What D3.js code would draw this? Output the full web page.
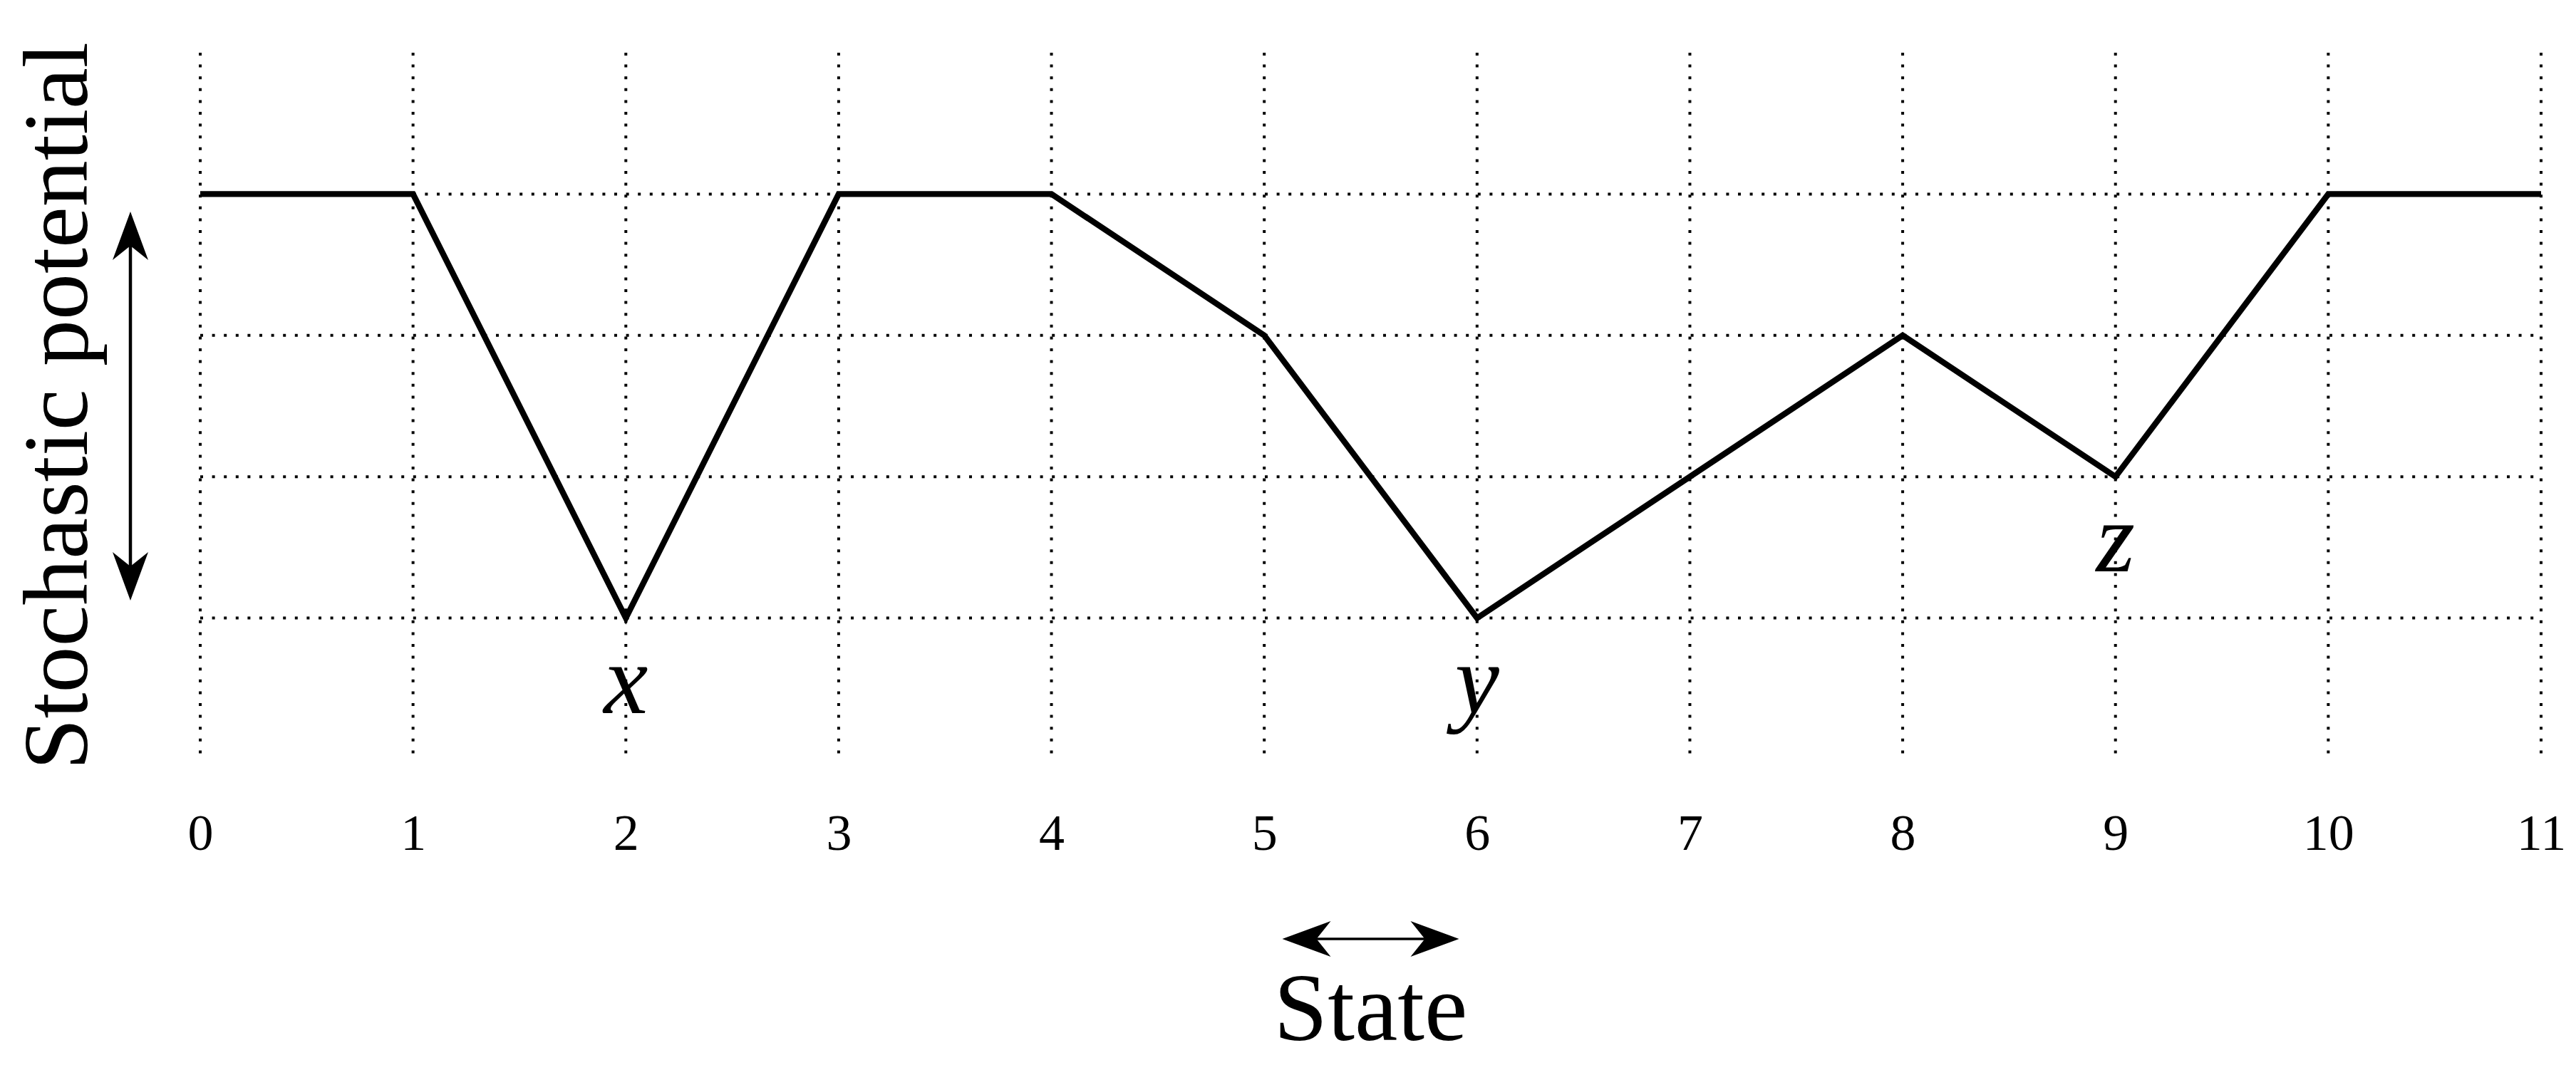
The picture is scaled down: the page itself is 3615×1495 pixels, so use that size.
<!DOCTYPE html>
<html>
<head>
<meta charset="utf-8">
<script src="https://cdn.jsdelivr.net/npm/d3@7"></script>
<style>
  body { margin: 0; background: #fff; }
</style>
</head>
<body>
<div id="chart"></div>
<script>
// states on the x axis and the potential at each state
var states = [0, 1, 2, 3, 4, 5, 6, 7, 8, 9, 10, 11];
var potential = [3, 3, 0, 3, 3, 2, 0, 1, 2, 1, 3, 3];
var levels = [0, 1, 2, 3];
var tickLabels = ['0','1','2','3','4','5','6','7','8','9','10','11'];
var minima = [{name: 'x', state: 2}, {name: 'y', state: 6}, {name: 'z', state: 9}];

var serif = '"Liberation Serif", "DejaVu Serif", serif';
var width = 3615, height = 1495;
var svg = d3.select('#chart').append('svg')
    .attr('width', width)
    .attr('height', height);

var x = d3.scaleLinear().domain([0, 11]).range([281, 3566]);
var y = d3.scaleLinear().domain([-1, 4]).range([1066, 74]);

// dotted grid
var dots = '4,12.6';
svg.append('g').selectAll('line')
    .data(states)
    .enter().append('line')
    .attr('x1', d => x(d)).attr('x2', d => x(d))
    .attr('y1', y(4)).attr('y2', y(-1))
    .attr('stroke', '#000')
    .attr('stroke-width', 4)
    .attr('stroke-dasharray', dots);
svg.append('g').selectAll('line')
    .data(levels)
    .enter().append('line')
    .attr('x1', x(0)).attr('x2', x(11))
    .attr('y1', d => y(d)).attr('y2', d => y(d))
    .attr('stroke', '#000')
    .attr('stroke-width', 4)
    .attr('stroke-dasharray', dots);

// tick labels (axis without domain/ticks)
var xAxis = d3.axisBottom(x)
    .tickValues(states)
    .tickFormat((d, i) => tickLabels[i])
    .tickSize(0)
    .tickPadding(0);
var ax = svg.append('g')
    .attr('transform', 'translate(0,1193)')
    .call(xAxis);
ax.select('.domain').remove();
ax.attr('font-family', null);
ax.selectAll('text')
    .attr('dy', 0)
    .attr('y', 0)
    .attr('fill', '#000')
    .style('font-family', serif)
    .style('font-size', '72px');

// the potential curve
var line = d3.line()
    .x((d, i) => x(states[i]))
    .y(d => y(d));
svg.append('path')
    .datum(potential)
    .attr('d', line)
    .attr('fill', 'none')
    .attr('stroke', '#000')
    .attr('stroke-width', 8.3)
    .attr('stroke-linejoin', 'miter');

// minima labels
svg.append('g').selectAll('text')
    .data(minima)
    .enter().append('text')
    .attr('x', d => x(d.state))
    .attr('y', d => y(potential[d.state]) + 133)
    .attr('text-anchor', 'middle')
    .style('font-family', serif)
    .style('font-style', 'italic')
    .style('font-size', '140px')
    .text(d => d.name);

// double headed arrows (stealth style heads)
function head(tx, ty, ux, uy, len, half, notch) {
    // tip at (tx,ty); u points from the tip back into the shaft
    var px = -uy, py = ux;
    return 'M' + tx + ',' + ty +
        'L' + (tx + ux * len + px * half) + ',' + (ty + uy * len + py * half) +
        'L' + (tx + ux * notch) + ',' + (ty + uy * notch) +
        'L' + (tx + ux * len - px * half) + ',' + (ty + uy * len - py * half) + 'Z';
}
function arrow(x1, y1, x2, y2, sw) {
    var dx = x2 - x1, dy = y2 - y1, L = Math.hypot(dx, dy);
    var ux = dx / L, uy = dy / L;
    var g = svg.append('g');
    g.append('line')
        .attr('x1', x1 + ux * 40).attr('y1', y1 + uy * 40)
        .attr('x2', x2 - ux * 40).attr('y2', y2 - uy * 40)
        .attr('stroke', '#000').attr('stroke-width', sw);
    g.append('path').attr('d', head(x1, y1, ux, uy, 68, 25, 48)).attr('fill', '#000');
    g.append('path').attr('d', head(x2, y2, -ux, -uy, 68, 25, 48)).attr('fill', '#000');
}
var midY = y(1.5);
arrow(183, midY - 273, 183, midY + 273, 4.5);
var midX = x(5.5);
arrow(midX - 124, 1318, midX + 124, 1318, 3.5);

// axis titles
svg.append('text')
    .attr('x', midX)
    .attr('y', 1460)
    .attr('text-anchor', 'middle')
    .style('font-family', serif)
    .style('font-size', '136px')
    .text('State');
svg.append('text')
    .attr('transform', 'translate(122,' + y(1.5) + ') rotate(-90)')
    .attr('text-anchor', 'middle')
    .style('font-family', serif)
    .style('font-size', '130px')
    .text('Stochastic potential');
</script>
</body>
</html>
